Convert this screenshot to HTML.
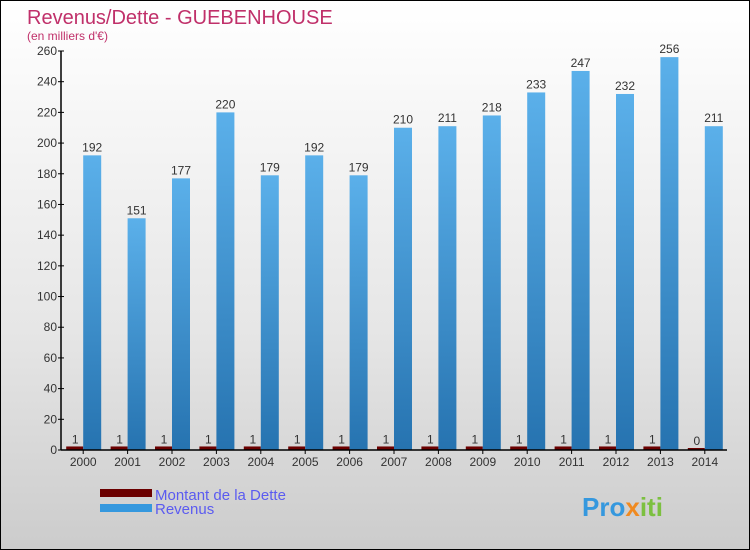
<!DOCTYPE html>
<html><head><meta charset="utf-8"><style>
body{margin:0}
#c{width:750px;height:550px;position:relative;box-sizing:border-box;border:1px solid #000;background:linear-gradient(#fff,#e6e6e6 60%,#ccc);font-family:"Liberation Sans",sans-serif;overflow:hidden}
</style></head><body>
<div id="c">
<svg id="s" width="750" height="550" style="position:absolute;left:-1px;top:-1px">
<defs><linearGradient id="gb" x1="0" y1="0" x2="0" y2="1"><stop offset="0" stop-color="#5bb0ea"/><stop offset="1" stop-color="#2673b0"/></linearGradient></defs>
<text x="27" y="24" font-size="20" fill="#c0306a">Revenus/Dette - GUEBENHOUSE</text>
<text x="27" y="40" font-size="12" fill="#c0306a">(en milliers d'€)</text>
<g id="g"></g>
<rect x="100" y="489" width="52" height="8" fill="#6b0000"/>
<rect x="100" y="504" width="52" height="8" fill="#3598de"/>
<text x="155" y="500" font-size="15" fill="#5b5bf0">Montant de la Dette</text>
<text x="155" y="514" font-size="15" fill="#5b5bf0">Revenus</text>
<text x="582" y="516" font-size="26" font-weight="bold" fill="#3598de">Pro<tspan fill="#f08a20">x</tspan><tspan fill="#7cc040">iti</tspan></text>
</svg>
</div>
<script>
const years=["2000","2001","2002","2003","2004","2005","2006","2007","2008","2009","2010","2011","2012","2013","2014"];
const revenus=[192,151,177,220,179,192,179,210,211,218,233,247,232,256,211];
const dette=[1,1,1,1,1,1,1,1,1,1,1,1,1,1,0];
const yTicks=[0,20,40,60,80,100,120,140,160,180,200,220,240,260];
const NS="http://www.w3.org/2000/svg",g=document.getElementById('g');
const x0=61,x1=727,y0=450,y1=51,ymax=260;
const step=(x1-x0)/years.length;
const Y=v=>y0-(v/ymax)*(y0-y1);
const X=i=>x0+step*(i+0.5);
function mk(t,a,txt){const e=document.createElementNS(NS,t);for(const k in a)e.setAttribute(k,a[k]);if(txt!==undefined)e.textContent=txt;g.appendChild(e);return e;}
years.forEach((yr,i)=>{
 const cx=X(i);
 let e=mk('rect',{x:cx-17,y:Y(dette[i])-2,width:17,height:y0-Y(dette[i])+2,fill:'#6b0000'});
 
 
 e=mk('rect',{x:cx,y:Y(revenus[i]),width:18,height:y0-Y(revenus[i]),fill:'url(#gb)'});
 
 
 e=mk('text',{x:cx+9,y:Y(revenus[i])-4,'font-size':12,fill:'#333','text-anchor':'middle'},revenus[i]);
 
 
 e=mk('text',{x:cx-8,y:Y(dette[i])-5,'font-size':12,fill:'#333','text-anchor':'middle'},dette[i]);
 
 
 e=mk('text',{x:cx,y:466,'font-size':12,fill:'#333','text-anchor':'middle'},yr);
 
 
 e=mk('line',{x1:cx,x2:cx,y1:y0,y2:y0+4,stroke:'#000'});
 
 
});
yTicks.forEach(v=>{
 let e=mk('line',{x1:x0-3,x2:x0+3,y1:Y(v),y2:Y(v),stroke:'#000'});
 
 
 e=mk('text',{x:x0-4,y:Y(v)+4,'font-size':12,fill:'#333','text-anchor':'end'},v);
 
 
});
let ax=mk('line',{x1:x0,x2:x0,y1:y1,y2:y0,stroke:'#000','stroke-width':1.5});


ax=mk('line',{x1:x0,x2:x1,y1:y0,y2:y0,stroke:'#000','stroke-width':1.5});


</script>
</body></html>
